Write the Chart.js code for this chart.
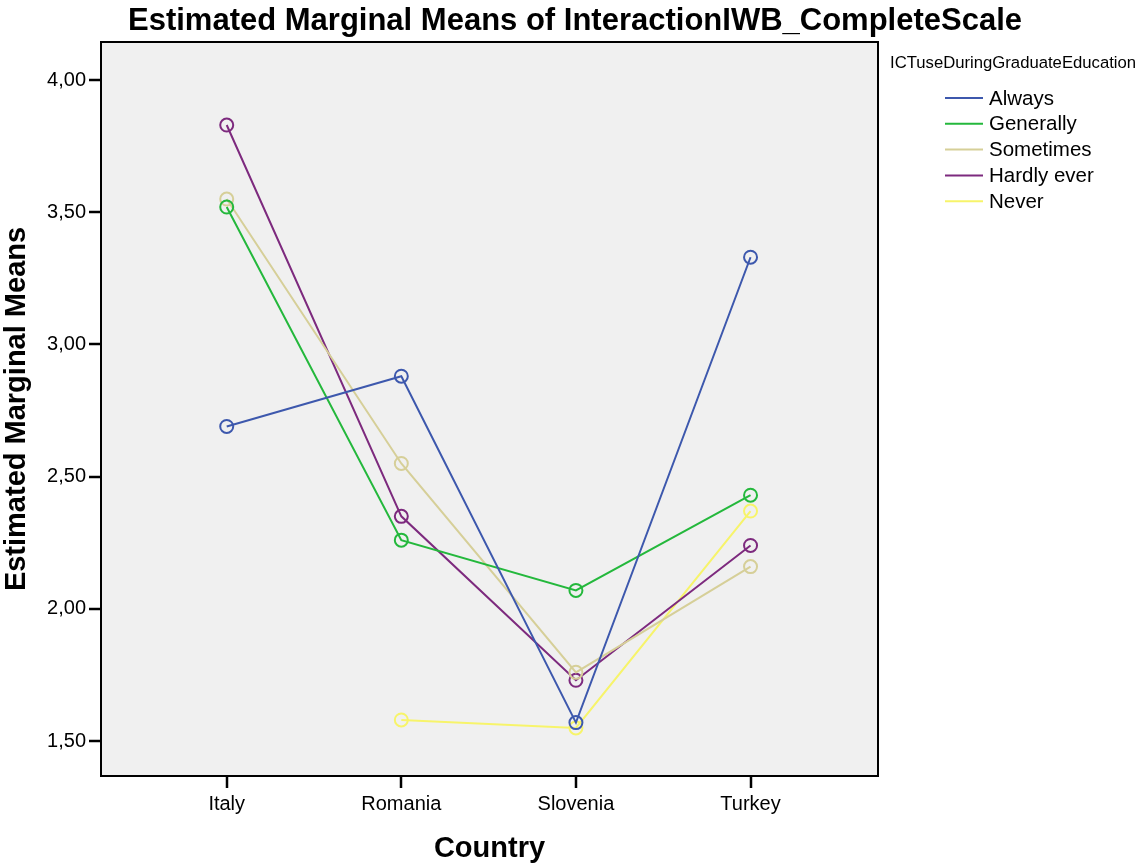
<!DOCTYPE html>
<html>
<head>
<meta charset="utf-8">
<script src="https://cdn.jsdelivr.net/npm/chart.js@4.4.1/dist/chart.umd.min.js"></script>
<style>
    html, body { margin: 0; padding: 0; background: #fff; }
    #wrap { width: 1138px; height: 866px; position: relative; }
</style>
</head>
<body>
<div id="wrap"><canvas id="chart"></canvas></div>
<script>
const countries = ['Italy', 'Romania', 'Slovenia', 'Turkey'];
const groups = ['Always', 'Generally', 'Sometimes', 'Hardly ever', 'Never'];
const always = [2.69, 2.88, 1.57, 3.33];
const generally = [3.52, 2.26, 2.07, 2.43];
const sometimes = [3.55, 2.55, 1.76, 2.16];
const hardlyEver = [3.83, 2.35, 1.73, 2.24];
const never = [null, 1.58, 1.55, 2.37];
const yTicks = [1.5, 2.0, 2.5, 3.0, 3.5, 4.0];
const colors = ['#3d58ad', '#24b83c', '#d6cf98', '#7d2a7e', '#f7f46a'];

const series = [always, generally, sometimes, hardlyEver, never];
const FONT = "'Liberation Sans', Arial, sans-serif";

const datasets = series.map((vals, i) => ({
    label: groups[i],
    data: vals.map((v, k) => ({ x: k, y: v })),
    borderColor: colors[i],
    backgroundColor: 'transparent',
    borderWidth: 2,
    pointRadius: 6.5,
    pointHoverRadius: 6.5,
    pointBorderWidth: 2,
    pointBackgroundColor: 'transparent',
    pointBorderColor: colors[i],
    tension: 0,
    spanGaps: false
}));

// plot background, frame, title and legend
const framePlugin = {
    id: 'frame',
    beforeDraw(chart) {
        const a = chart.chartArea;
        const ctx = chart.ctx;
        ctx.save();
        ctx.fillStyle = '#f0f0f0';
        ctx.fillRect(a.left, a.top, a.right - a.left, a.bottom - a.top);
        ctx.restore();
    },
    afterDraw(chart) {
        const a = chart.chartArea;
        const ctx = chart.ctx;
        ctx.save();
        ctx.strokeStyle = '#000';
        ctx.lineWidth = 2;
        ctx.strokeRect(a.left, a.top, a.right - a.left, a.bottom - a.top);

        ctx.fillStyle = '#000';
        ctx.textBaseline = 'middle';
        ctx.textAlign = 'center';
        ctx.font = 'bold 31px ' + FONT;
        ctx.fillText('Estimated Marginal Means of InteractionIWB_CompleteScale', 575, 21);

        ctx.textAlign = 'left';
        ctx.font = '16.7px ' + FONT;
        ctx.fillText('ICTuseDuringGraduateEducation', 890, 63);
        ctx.font = '20.5px ' + FONT;
        chart.data.datasets.forEach((ds, i) => {
            const y = 98 + i * 25.8;
            ctx.strokeStyle = ds.borderColor;
            ctx.lineWidth = 2;
            ctx.beginPath();
            ctx.moveTo(945, y);
            ctx.lineTo(983, y);
            ctx.stroke();
            ctx.fillStyle = '#000';
            ctx.fillText(ds.label, 989, y + 1);
        });
        ctx.restore();
    }
};

new Chart(document.getElementById('chart'), {
    type: 'line',
    data: { datasets },
    plugins: [framePlugin],
    options: {
        responsive: true,
        maintainAspectRatio: false,
        animation: false,
        layout: { padding: { top: 42, right: 260, bottom: 0, left: 0 } },
        plugins: {
            legend: { display: false },
            tooltip: { enabled: false },
            title: { display: false }
        },
        scales: {
            x: {
                type: 'linear',
                min: -0.72,
                max: 3.73,
                afterBuildTicks: s => { s.ticks = countries.map((c, i) => ({ value: i })); },
                afterFit: s => { s.height = 90; },
                ticks: {
                    color: '#000',
                    font: { family: FONT, size: 20 },
                    padding: 4,
                    callback: v => countries[v]
                },
                grid: { drawOnChartArea: false, drawTicks: true, tickLength: 12, color: '#000', lineWidth: 2, tickWidth: 2.5 },
                border: { display: true, color: '#000', width: 2 },
                title: {
                    display: true,
                    text: 'Country',
                    color: '#000',
                    font: { family: FONT, size: 29, weight: 'bold' },
                    padding: { top: 0, bottom: 0 }
                }
            },
            y: {
                min: 1.368,
                max: 4.144,
                afterBuildTicks: s => { s.ticks = yTicks.map(v => ({ value: v })); },
                afterFit: s => { s.width = 101; },
                ticks: {
                    color: '#000',
                    font: { family: FONT, size: 20 },
                    padding: 3,
                    callback: v => v.toFixed(2).replace('.', ',')
                },
                grid: { drawOnChartArea: false, drawTicks: true, tickLength: 12, color: '#000', lineWidth: 2, tickWidth: 2.5 },
                border: { display: true, color: '#000', width: 2 },
                title: {
                    display: true,
                    text: 'Estimated Marginal Means',
                    color: '#000',
                    font: { family: FONT, size: 29, weight: 'bold' },
                    padding: { top: 0, bottom: 0 }
                }
            }
        }
    }
});
</script>
</body>
</html>
